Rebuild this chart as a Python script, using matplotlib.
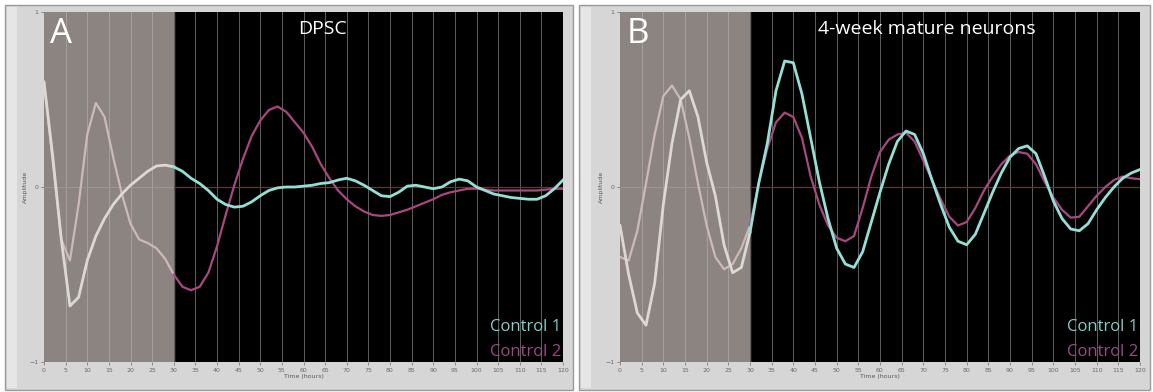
import numpy as np
import matplotlib.pyplot as plt
from matplotlib.patches import Rectangle

# time axis (hours), every 2 h
t = np.arange(0, 121, 2)

# panel A - DPSC
dpsc_c1 = [0.60, 0.18, -0.30, -0.68, -0.63, -0.42, -0.28, -0.18, -0.10, -0.04,
           0.01, 0.05, 0.09, 0.12, 0.125, 0.115, 0.09, 0.05, 0.02, -0.02,
           -0.07, -0.10, -0.115, -0.11, -0.085, -0.05, -0.02, -0.005, 0.0, 0.0,
           0.005, 0.01, 0.02, 0.025, 0.04, 0.05, 0.035, 0.01, -0.02, -0.05,
           -0.055, -0.03, 0.005, 0.01, 0.0, -0.01, 0.0, 0.03, 0.045, 0.035,
           0.0, -0.02, -0.04, -0.05, -0.06, -0.065, -0.07, -0.07, -0.05, -0.01,
           0.04]
dpsc_c2 = [0.60, 0.15, -0.30, -0.42, -0.10, 0.30, 0.48, 0.40, 0.17, -0.04,
           -0.21, -0.30, -0.32, -0.35, -0.41, -0.50, -0.57, -0.59, -0.57, -0.49,
           -0.34, -0.16, 0.01, 0.16, 0.29, 0.38, 0.44, 0.46, 0.43, 0.37,
           0.31, 0.23, 0.13, 0.05, -0.02, -0.07, -0.11, -0.14, -0.16, -0.165,
           -0.16, -0.145, -0.13, -0.11, -0.09, -0.07, -0.045, -0.03, -0.02, -0.01,
           -0.01, -0.015, -0.02, -0.02, -0.02, -0.02, -0.02, -0.02, -0.015, -0.01,
           -0.01]

# panel B - 4-week mature neurons
neur_c1 = [-0.22, -0.50, -0.72, -0.79, -0.55, -0.10, 0.25, 0.50, 0.55, 0.40,
           0.14, -0.05, -0.33, -0.49, -0.46, -0.26, 0.02, 0.25, 0.55, 0.72,
           0.71, 0.53, 0.28, 0.03, -0.18, -0.35, -0.44, -0.46, -0.37, -0.20,
           -0.03, 0.13, 0.26, 0.32, 0.30, 0.19, 0.04, -0.10, -0.23, -0.31,
           -0.33, -0.27, -0.15, -0.03, 0.08, 0.17, 0.22, 0.235, 0.19, 0.06,
           -0.08, -0.18, -0.24, -0.25, -0.21, -0.13, -0.06, 0.00, 0.05, 0.08,
           0.10]
neur_c2 = [-0.40, -0.42, -0.25, 0.02, 0.30, 0.52, 0.58, 0.50, 0.28, 0.02,
           -0.22, -0.40, -0.47, -0.44, -0.35, -0.22, 0.02, 0.22, 0.37, 0.425,
           0.40, 0.28, 0.06, -0.10, -0.22, -0.29, -0.31, -0.28, -0.12, 0.06,
           0.20, 0.27, 0.30, 0.31, 0.26, 0.15, 0.04, -0.07, -0.17, -0.22,
           -0.20, -0.12, -0.02, 0.06, 0.13, 0.18, 0.20, 0.19, 0.13, 0.03,
           -0.06, -0.13, -0.175, -0.17, -0.11, -0.05, 0.00, 0.04, 0.06, 0.05,
           0.045]

panels = [
    ("A", "DPSC", dpsc_c1, dpsc_c2),
    ("B", "4-week mature neurons", neur_c1, neur_c2),
]

W, H = 1153, 392
fig = plt.figure(figsize=(W / 100, H / 100), dpi=100)
fig.patch.set_facecolor("white")

# panel geometry in pixels: frame (x0, x1) and plot (x0, x1)
frames = [(5, 573), (579, 1150)]
plots = [(44, 563), (620, 1140)]
py0, py1 = 12, 362

c1_col, c2_col = "#95e0d6", "#a9487f"
c1_gray, c2_gray = "#dcd8d4", "#cdb9b8"

for (fx0, fx1), (px0, px1), (letter, title, c1, c2) in zip(frames, plots, panels):
    fig.patches.append(Rectangle((fx0 / W, (H - 390) / H), (fx1 - fx0) / W, 385 / H,
                                 transform=fig.transFigure, facecolor="#d6d6d6",
                                 edgecolor="#9a9a9a", lw=1.0, zorder=0))
    fig.patches.append(Rectangle(((fx0 + 2) / W, (H - 388) / H), 10 / W, 381 / H,
                                 transform=fig.transFigure, facecolor="#e6e6e6",
                                 edgecolor="none", zorder=0))

    ax = fig.add_axes([px0 / W, (H - py1) / H, (px1 - px0) / W, (py1 - py0) / H])
    ax.set_zorder(5)
    ax.set_facecolor("black")
    ax.set_xlim(0, 120)
    ax.set_ylim(-1, 1)
    ax.axvspan(0, 30, color="#8b8480", zorder=0)

    for x in range(5, 120, 5):
        ax.axvline(x, color="#a6a09d" if x < 30 else "#5e5e5e", lw=0.7, zorder=1)
    ax.plot([0, 30], [0, 0], color="#a39390", lw=0.8, zorder=1)
    ax.plot([30, 120], [0, 0], color="#5a3a32", lw=0.9, zorder=1)

    c1 = np.array(c1)
    c2 = np.array(c2)
    g = t <= 30
    k = t >= 30
    ax.plot(t[g], c2[g], color=c2_gray, lw=1.6, zorder=3)
    ax.plot(t[g], c1[g], color=c1_gray, lw=2.0, zorder=3)
    ax.plot(t[k], c2[k], color=c2_col, lw=1.6, zorder=3)
    ax.plot(t[k], c1[k], color=c1_col, lw=2.0, zorder=3)

    ax.text(0.012, 0.985, letter, transform=ax.transAxes, color="white",
            fontsize=25, family="Open Sans", ha="left", va="top")
    tx = 64.5 if letter == "A" else 70.8
    ax.text(tx, 0.905, title, color="white", fontsize=14, family="Open Sans",
            ha="center", va="center")
    ax.text(0.997, 0.10, "Control 1", transform=ax.transAxes, color="#84cfc6",
            fontsize=12, family="Open Sans", ha="right", va="center")
    ax.text(0.997, 0.03, "Control 2", transform=ax.transAxes, color="#9c4a84",
            fontsize=12, family="Open Sans", ha="right", va="center")

    ax.set_xticks(np.arange(0, 121, 5))
    ax.set_yticks([-1, 0, 1])
    ax.tick_params(labelsize=4.5, colors="#6a6a6a", length=2, width=0.5, pad=2)
    ax.set_xlabel("Time (hours)", fontsize=4.5, color="#5a5a5a", labelpad=1)
    ax.set_ylabel("Amplitude", fontsize=4.5, color="#5a5a5a", labelpad=1)
    for s in ax.spines.values():
        s.set_visible(False)

fig.savefig("out.png", dpi=100, facecolor="white")
